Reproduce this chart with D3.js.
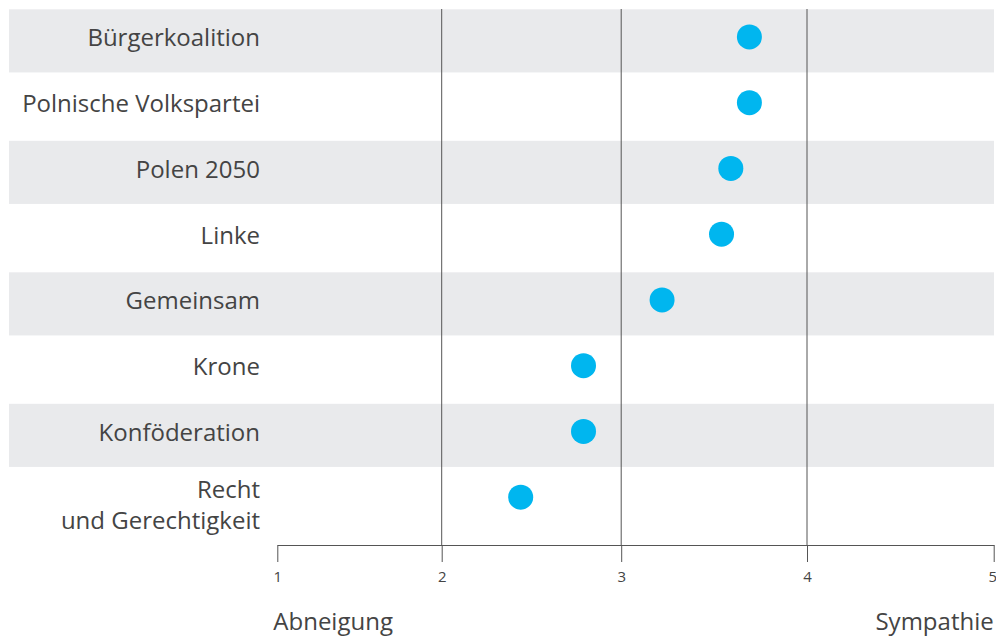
<!DOCTYPE html>
<html>
<head>
<meta charset="utf-8">
<script src="https://cdn.jsdelivr.net/npm/d3@7"></script>
<style>
    body { margin: 0; background: #fff; }
</style>
</head>
<body>
<div id="my_dataviz"></div>
<script>

var svg;
var g;
var xAxis;

// data
const parties = ['Bürgerkoalition', 'Polnische Volkspartei', 'Polen 2050', 'Linke',
    'Gemeinsam', 'Krone', 'Konföderation', 'Recht\nund Gerechtigkeit'];
const scores = [3.69, 3.69, 3.59, 3.54, 3.22, 2.79, 2.79, 2.44];
const tickValues = [1, 2, 3, 4, 5];
const tickLabels = ['1', '2', '3', '4', '5'];
const leftLabel = 'Abneigung';
const rightLabel = 'Sympathie';

const fontFamily = `"Open Sans", sans-serif`;
const fontColor = `#444`;
const labelSize = 24;
const axisFontSize = 15;
const bandColor = `#e9eaec`;
const dotColor = `#00b6ef`;
const lineColor = `#555`;
const dotRadius = 12.5;

const width = 996;
const height = 637;
const plotTop = 9;
const plotBottom = 545;
const labelRight = 260;

// the reference axis has slightly uneven spacing between its ticks
const xScale = d3.scaleLinear()
    .domain(tickValues)
    .range([277.3, 441.7, 621.2, 807, 993.7]);

const yScale = d3.scaleBand()
    .domain(parties)
    .range([8, 534])
    .paddingInner(0.04)
    .paddingOuter(0.02);

document.addEventListener('DOMContentLoaded', function () {

    svg = d3.select('#my_dataviz')
        .append('svg')
        .attr('width', width)
        .attr('height', height)
        .style('font-family', fontFamily);

    g = svg.append('g');

    // alternating gray bands
    g.selectAll('.band')
        .data(parties.filter((d, i) => i % 2 == 0))
        .join('rect')
        .attr('class', 'band')
        .attr('x', 9)
        .attr('width', 994 - 9)
        .attr('y', d => yScale(d))
        .attr('height', yScale.bandwidth())
        .attr('fill', bandColor);

    // vertical grid lines
    g.selectAll('.grid')
        .data(tickValues.slice(1, -1))
        .join('line')
        .attr('class', 'grid')
        .attr('x1', d => xScale(d))
        .attr('x2', d => xScale(d))
        .attr('y1', plotTop)
        .attr('y2', plotBottom)
        .attr('stroke', lineColor)
        .attr('stroke-width', 1);

    // x axis
    xAxis = g.append('g')
        .attr('transform', `translate(0, ${plotBottom})`)
        .call(d3.axisBottom(xScale)
            .tickValues(tickValues)
            .tickFormat((d, i) => tickLabels[i])
            .tickSize(17)
            .tickSizeOuter(0)
            .tickPadding(9))
        .attr('font-size', axisFontSize)
        .attr('font-family', fontFamily)
        .call(g => g.select('.domain').attr('stroke', lineColor))
        .call(g => g.selectAll('.tick line').attr('stroke', lineColor))
        .call(g => g.selectAll('.tick text')
            .attr('fill', fontColor)
            .attr('dy', '0.72em'))
        // last label would run off the right edge
        .call(g => g.selectAll('.tick:last-of-type text')
            .attr('text-anchor', 'end')
            .attr('x', 3));

    // party labels
    const labels = g.selectAll('.label')
        .data(parties)
        .join('text')
        .attr('class', 'label')
        .attr('text-anchor', 'end')
        .attr('fill', fontColor)
        .attr('font-size', labelSize);

    labels.each(function (d) {
        const lines = d.split('\n');
        const lh = 30.4;
        const cy = yScale(d) + yScale.bandwidth() / 2 + (lines.length > 1 ? 4 : -3);
        d3.select(this).selectAll('tspan')
            .data(lines)
            .join('tspan')
            .attr('x', labelRight)
            .attr('y', (l, i) => cy + (i - (lines.length - 1) / 2) * lh)
            .attr('dy', '0.35em')
            .text(l => l);
    });

    // dots
    g.selectAll('.dot')
        .data(parties)
        .join('circle')
        .attr('class', 'dot')
        .attr('cx', (d, i) => xScale(scores[i]))
        .attr('cy', d => yScale(d) + yScale.bandwidth() / 2 - 4)
        .attr('r', dotRadius)
        .attr('fill', dotColor);

    // scale end labels
    svg.append('text')
        .attr('x', xScale(tickValues[0]) - 4)
        .attr('y', 630)
        .attr('fill', fontColor)
        .attr('font-size', labelSize)
        .text(leftLabel);

    svg.append('text')
        .attr('x', xScale(tickValues[tickValues.length - 1]))
        .attr('y', 630)
        .attr('text-anchor', 'end')
        .attr('fill', fontColor)
        .attr('font-size', labelSize)
        .text(rightLabel);
});

</script>
</body>
</html>
